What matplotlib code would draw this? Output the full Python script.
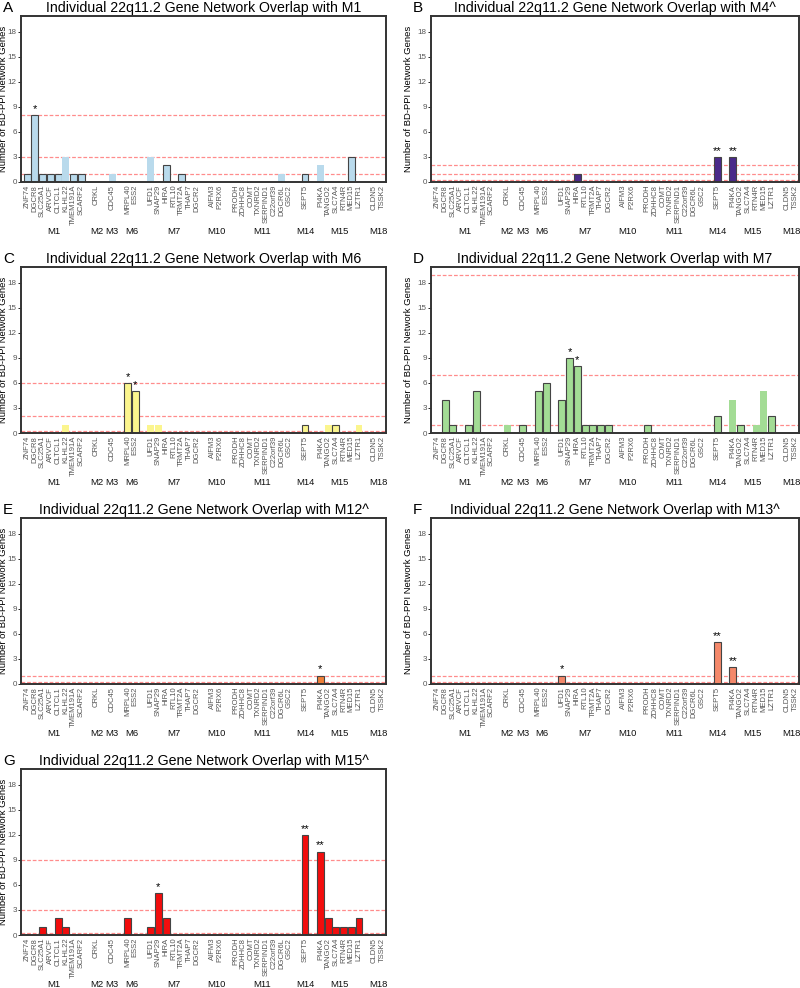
import matplotlib
matplotlib.use("Agg")
import matplotlib.pyplot as plt

plt.rcParams['font.family'] = ['Liberation Sans', 'DejaVu Sans']

# gene slots along the x axis (None = gap between modules)
genes = ['ZNF74', 'DGCR8', 'SLC25A1', 'ARVCF', 'CLTCL1', 'KLHL22', 'TMEM191A', 'SCARF2', None,
         'CRKL', None, 'CDC45', None, 'MRPL40', 'ESS2', None,
         'UFD1', 'SNAP29', 'HIRA', 'RTL10', 'TRMT2A', 'THAP7', 'DGCR2', None,
         'AIFM3', 'P2RX6', None,
         'PRODH', 'ZDHHC8', 'COMT', 'TXNRD2', 'SERPIND1', 'C22orf39', 'DGCR6L', 'GSC2', None,
         'SEPT5', None,
         'PI4KA', 'TANGO2', 'SLC7A4', 'RTN4R', 'MED15', 'LZTR1', None,
         'CLDN5', 'TSSK2']

modules = ['M1', 'M2', 'M3', 'M6', 'M7', 'M10', 'M11', 'M14', 'M15', 'M18']
module_first = ['ZNF74', 'CRKL', 'CDC45', 'MRPL40', 'UFD1', 'AIFM3', 'PRODH', 'SEPT5', 'PI4KA', 'CLDN5']
module_last = ['SCARF2', 'CRKL', 'CDC45', 'ESS2', 'DGCR2', 'P2RX6', 'GSC2', 'SEPT5', 'LZTR1', 'TSSK2']

# overlap counts per panel (genes not listed are 0)
vals_M1 = {'ZNF74': 1, 'DGCR8': 8, 'SLC25A1': 1, 'ARVCF': 1, 'CLTCL1': 1, 'KLHL22': 3,
           'TMEM191A': 1, 'SCARF2': 1, 'CDC45': 1, 'UFD1': 3, 'HIRA': 2, 'TRMT2A': 1,
           'DGCR6L': 1, 'SEPT5': 1, 'PI4KA': 2, 'MED15': 3}
vals_M4 = {'HIRA': 1, 'SEPT5': 3, 'PI4KA': 3}
vals_M6 = {'KLHL22': 1, 'MRPL40': 6, 'ESS2': 5, 'UFD1': 1, 'SNAP29': 1, 'SEPT5': 1,
           'TANGO2': 1, 'SLC7A4': 1, 'LZTR1': 1}
vals_M7 = {'DGCR8': 4, 'SLC25A1': 1, 'CLTCL1': 1, 'KLHL22': 5, 'CRKL': 1, 'CDC45': 1,
           'MRPL40': 5, 'ESS2': 6, 'UFD1': 4, 'SNAP29': 9, 'HIRA': 8, 'RTL10': 1,
           'TRMT2A': 1, 'THAP7': 1, 'DGCR2': 1, 'PRODH': 1, 'SEPT5': 2, 'PI4KA': 4,
           'TANGO2': 1, 'RTN4R': 1, 'MED15': 5, 'LZTR1': 2}
vals_M12 = {'PI4KA': 1}
vals_M13 = {'UFD1': 1, 'SEPT5': 5, 'PI4KA': 2}
vals_M15 = {'SLC25A1': 1, 'CLTCL1': 2, 'KLHL22': 1, 'MRPL40': 2, 'UFD1': 1, 'SNAP29': 5,
            'HIRA': 2, 'SEPT5': 12, 'PI4KA': 10, 'TANGO2': 2, 'SLC7A4': 1, 'RTN4R': 1,
            'MED15': 1, 'LZTR1': 2}

# significance stars
stars_M1 = {'DGCR8': '*'}
stars_M4 = {'SEPT5': '**', 'PI4KA': '**'}
stars_M6 = {'MRPL40': '*', 'ESS2': '*'}
stars_M7 = {'SNAP29': '*', 'HIRA': '*'}
stars_M12 = {'PI4KA': '*'}
stars_M13 = {'UFD1': '*', 'SEPT5': '**', 'PI4KA': '**'}
stars_M15 = {'SNAP29': '*', 'SEPT5': '**', 'PI4KA': '**'}

# dashed threshold lines
thr_M1 = [8, 3, 1]
thr_M4 = [2, 1, 0.2]
thr_M6 = [6, 2, 0.2]
thr_M7 = [19, 7, 0.9]
thr_M12 = [1, 0.2]
thr_M13 = [1, 0.2]
thr_M15 = [9, 3, 0.2]

all_genes = [g for g in genes if g]
panels = [
    ('A', 'M1', vals_M1, stars_M1, thr_M1, '#b9daec',
     ['ZNF74', 'DGCR8', 'SLC25A1', 'ARVCF', 'CLTCL1', 'TMEM191A', 'SCARF2', 'HIRA', 'TRMT2A', 'SEPT5', 'MED15']),
    ('B', 'M4^', vals_M4, stars_M4, thr_M4, '#4a2a8a', all_genes),
    ('C', 'M6', vals_M6, stars_M6, thr_M6, '#fbf58e', ['MRPL40', 'ESS2', 'SEPT5', 'SLC7A4']),
    ('D', 'M7', vals_M7, stars_M7, thr_M7, '#a3dc95',
     [g for g in all_genes if g not in ('CRKL', 'PI4KA', 'RTN4R', 'MED15')]),
    ('E', 'M12^', vals_M12, stars_M12, thr_M12, '#f08038', all_genes),
    ('F', 'M13^', vals_M13, stars_M13, thr_M13, '#f4886a', all_genes),
    ('G', 'M15^', vals_M15, stars_M15, thr_M15, '#f20d0d', all_genes),
]

fig = plt.figure(figsize=(8, 9.88), dpi=100)
W, H = 800.0, 988.0
col_left = [21, 431]
col_width = [365, 368]
row_bottom = [182, 433, 684, 935]
ax_h = 166

pos = {g: i for i, g in enumerate(genes) if g}
xs = [pos[g] for g in all_genes]

for k, (letter, mod, vals, stars, thr, color, edged) in enumerate(panels):
    r, c = k // 2, k % 2
    ax = fig.add_axes([col_left[c] / W, 1 - row_bottom[r] / H, col_width[c] / W, ax_h / H])
    for t in thr:
        ax.axhline(t, color='red', ls=(0, (3, 1.5)), lw=0.9, alpha=0.45, zorder=1)
    heights = [vals.get(g, 0) for g in all_genes]
    for x, g, h in zip(xs, all_genes, heights):
        if h == 0:
            continue
        ec = '#444444' if g in edged else 'none'
        ax.bar(x, h, width=0.9, color=color, edgecolor=ec, linewidth=0.8, zorder=2)
        if g in stars:
            ax.text(x, h + 0.15, stars[g], ha='center', va='bottom', fontsize=8, zorder=3)
    ax.set_xlim(-0.8, len(genes) - 0.5)
    ax.set_ylim(0, 19.9)
    ax.set_yticks([0, 3, 6, 9, 12, 15, 18])
    ax.tick_params(axis='y', labelsize=5.8, labelcolor='#555555', length=2, width=0.6, pad=1)
    ax.set_xticks(xs)
    ax.set_xticklabels(all_genes, rotation=90, fontsize=5.5, color='#555555')
    ax.tick_params(axis='x', length=0, pad=2)
    for s in ax.spines.values():
        s.set_linewidth(1.4)
        s.set_color('#333333')
    ax.set_ylabel('Number of BD-PPI Network Genes', fontsize=6.8)
    ax.yaxis.set_label_coords(-0.036 if c == 0 else -0.049, 0.5)
    for m, a, b in zip(modules, module_first, module_last):
        ax.text((pos[a] + pos[b]) / 2, -0.30, m, transform=ax.get_xaxis_transform(),
                ha='center', va='center', fontsize=6.8, color='#111111')
    ax.set_title('Individual 22q11.2 Gene Network Overlap with ' + mod, fontsize=10.2, pad=3)
    fig.text((col_left[c] - 18) / W, 1 - (row_bottom[r] - ax_h - 8) / H, letter,
             fontsize=11, ha='left', va='center')

fig.savefig('out.png', dpi=100)
